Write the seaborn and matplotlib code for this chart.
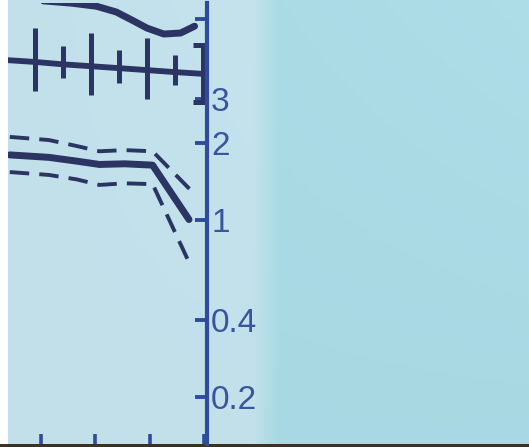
import numpy as np
import pandas as pd
import matplotlib
matplotlib.use("Agg")
import matplotlib.pyplot as plt
import matplotlib.ticker as mticker
import seaborn as sns

# upper trend curve (partly cut off at top)
top_x = [1.3, 2.3, 3.2, 3.9, 4.5, 5.0, 5.6, 6.2, 6.7]
top_y = [7.3, 7.15, 6.95, 6.6, 6.1, 5.7, 5.4, 5.45, 5.8]

# horizontal "ruler" with error bars
ruler_x = [0, 1, 2, 3, 4, 5, 6, 7]
ruler_y = [4.26, 4.19, 4.10, 4.03, 3.96, 3.89, 3.82, 3.76]
bar_low = [3.23, 3.63, 3.09, 3.47, 2.98, 3.39, 2.90]
bar_high = [5.71, 4.85, 5.47, 4.68, 5.20, 4.48, 4.90]

# middle estimate with confidence band
mid_x = [0.1, 1.5, 2.5, 3.3, 4.2, 5.2, 6.5]
mid_y = [1.80, 1.76, 1.70, 1.65, 1.66, 1.64, 1.00]
band_x = [0.1, 1.5, 2.5, 3.3, 4.2, 5.2, 6.55]
band_hi = [2.12, 2.06, 1.95, 1.86, 1.88, 1.86, 1.31]
band_lo = [1.54, 1.50, 1.44, 1.37, 1.39, 1.38, 0.66]

ytick_vals = [0.2, 0.4, 1, 2, 3, 6.2]
ytick_labels = ["0.2", "0.4", "1", "2", "3", ""]
xtick_vals = [1.2, 3.15, 5.1, 7.05]

sns.set_theme(style="white")
plt.rcParams["font.family"] = ["Liberation Sans Narrow", "Liberation Sans", "DejaVu Sans"]

W, H = 529, 447
fig = plt.figure(figsize=(W / 100, H / 100), dpi=100)
fig.patch.set_facecolor("white")

# projected-screen background
bg = fig.add_axes([8 / W, 0, 1 - 8 / W, 1])
gx = np.linspace(0, 1, 300)
gy = np.linspace(0, 1, 200)
GX, GY = np.meshgrid(gx, gy)
left_col = np.array([0.76, 0.88, 0.92])
right_col = np.array([0.66, 0.85, 0.89])
t = np.clip((GX - 0.47) / 0.05, 0, 1)[..., None]
img = left_col * (1 - t) + right_col * t
img = img + 0.02 * (1 - GY)[..., None] * GX[..., None]
bg.imshow(np.clip(img, 0, 1), aspect="auto", extent=[0, 1, 0, 1], origin="upper")
bg.axis("off")

# dark strip along the bottom edge
strip = fig.add_axes([0, 0, 1, 3 / H])
strip.set_facecolor("#3b3224")
strip.set_xticks([])
strip.set_yticks([])
for s in strip.spines.values():
    s.set_visible(False)

navy = "#2b3463"
axis_blue = "#2f4c9c"

ax = fig.add_axes([8 / W, 3 / H, (207 - 8) / W, (444 - 3) / H])
ax.patch.set_alpha(0)
ax.set_yscale("log")
ax.set_xlim(0.036, 7.143)
ax.set_ylim(0.130, 7.16)

df_top = pd.DataFrame({"x": top_x, "y": top_y})
sns.lineplot(data=df_top, x="x", y="y", ax=ax, color=navy, lw=5,
             solid_capstyle="round", solid_joinstyle="round")

ax.plot(ruler_x, ruler_y, color=navy, lw=4.2)
ry = np.array(ruler_y[1:])
lo = ry - np.array(bar_low)
hi = np.array(bar_high) - ry
ax.errorbar(ruler_x[1:7], ry[:6], yerr=[lo[:6], hi[:6]], fmt="none",
            ecolor=navy, elinewidth=3.6, capsize=0)
ax.errorbar(ruler_x[7:], ry[6:], yerr=[lo[6:], hi[6:]], fmt="none",
            ecolor=navy, elinewidth=3.6, capsize=7, capthick=3.6)

df_mid = pd.DataFrame({"x": mid_x, "y": mid_y})
sns.lineplot(data=df_mid, x="x", y="y", ax=ax, color=navy, lw=5,
             solid_joinstyle="round")
df_band = pd.DataFrame({"x": band_x * 2, "y": band_hi + band_lo,
                        "b": ["hi"] * len(band_x) + ["lo"] * len(band_x)})
sns.lineplot(data=df_band, x="x", y="y", units="b", estimator=None, ax=ax,
             color=navy, lw=2.8, linestyle=(0, (5, 2.6)))

for side in ["left", "top", "bottom"]:
    ax.spines[side].set_visible(False)
ax.spines["right"].set_color(axis_blue)
ax.spines["right"].set_linewidth(3)

ax.yaxis.tick_right()
ax.yaxis.set_major_locator(mticker.FixedLocator(ytick_vals))
ax.yaxis.set_major_formatter(mticker.FixedFormatter(ytick_labels))
ax.yaxis.set_minor_locator(mticker.NullLocator())
ax.tick_params(axis="y", which="major", direction="in", length=8.5, width=2.8,
               color=axis_blue, labelcolor="#3a55a0", labelsize=24, pad=3)

ax.set_xticks(xtick_vals)
ax.set_xticklabels([])
ax.tick_params(axis="x", which="major", bottom=True, direction="in", length=7,
               width=2.6, color=axis_blue)
ax.set_xlabel("")
ax.set_ylabel("")

fig.savefig("out.png", dpi=100)
plt.close(fig)
